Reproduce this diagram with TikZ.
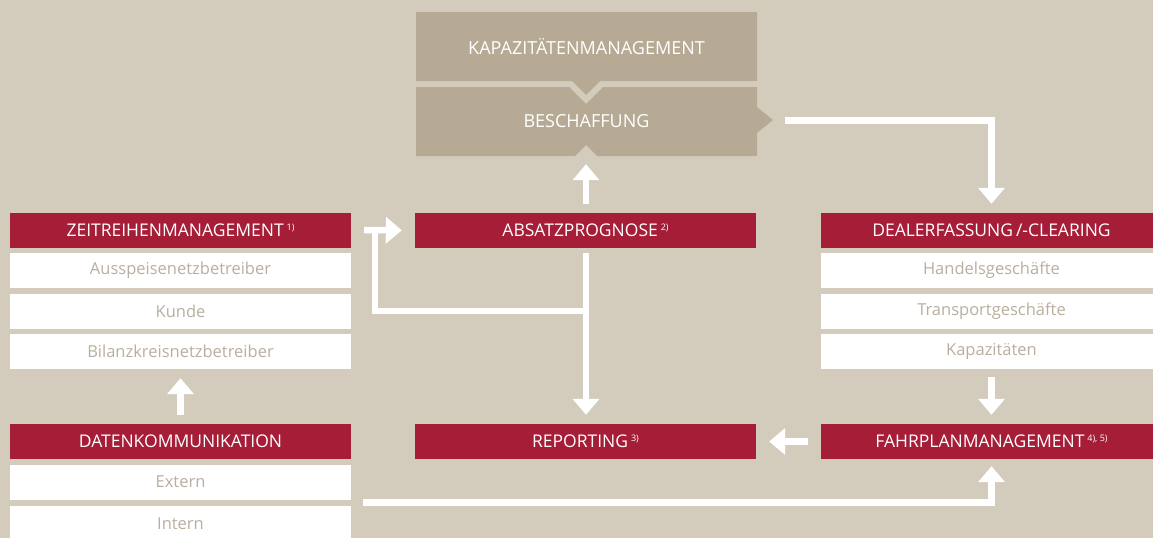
\documentclass[tikz,border=0pt]{standalone}
\usepackage{fontspec}
\setmainfont{Open Sans}
\usetikzlibrary{arrows.meta}
\definecolor{bgc}{RGB}{211,204,189}
\definecolor{taupe}{RGB}{182,170,148}
\definecolor{dred}{RGB}{166,29,55}
\definecolor{rowtxt}{RGB}{186,175,158}
\newcommand{\sups}[1]{\,\raisebox{6.5pt}{\fontsize{9}{9}\selectfont #1}}
\tikzset{
  redbox/.style={fill=dred,text=white,minimum width=341pt,minimum height=35pt,inner sep=0pt,font=\fontsize{17.5}{19}\selectfont},
  rowbox/.style={fill=white,text=rowtxt,minimum width=341pt,minimum height=35pt,inner sep=0pt,font=\fontsize{16.5}{18}\selectfont},
  toptext/.style={text=white,minimum width=341pt,minimum height=69pt,inner sep=0pt,font=\fontsize{18}{20}\selectfont},
  wline/.style={draw=white,line width=6.5pt},
  arr/.style={wline,-{Triangle[width=26pt,length=16pt]}}
}
\begin{document}
\begin{tikzpicture}[x=1pt,y=-1pt]
\fill[bgc] (0,0) rectangle (1153,538);
\useasboundingbox (0,0) rectangle (1153,538);
% top taupe shapes
\fill[taupe] (416,12) -- (757,12) -- (757,81) -- (600,81) -- (586,95) -- (572,81) -- (416,81) -- cycle;
\fill[taupe] (416,87) -- (569,87) -- (586,104) -- (603,87) -- (757,87) -- (757,107) -- (773,120) -- (757,133) -- (757,156) -- (597,156) -- (586,145) -- (575,156) -- (416,156) -- cycle;
\node[toptext] (kapm) at (586.5,46.5) {KAPAZITÄTENMANAGEMENT};
\node[toptext] (besch) at (586.5,121.5) {BESCHAFFUNG};
% left column
\node[redbox] (zeit) at (180.5,230.5) {ZEITREIHENMANAGEMENT\sups{1)}};
\node[rowbox] (ausp) at (180.5,270.5) {Ausspeisenetzbetreiber};
\node[rowbox] (kunde) at (180.5,311.5) {Kunde};
\node[rowbox] (bilanz) at (180.5,351.5) {Bilanzkreisnetzbetreiber};
\node[redbox] (daten) at (180.5,441.5) {DATENKOMMUNIKATION};
\node[rowbox] (extern) at (180.5,482) {Extern};
\node[rowbox] (intern) at (180.5,523.5) {Intern};
% middle column
\node[redbox] (absatz) at (585.5,230.5) {ABSATZPROGNOSE\sups{2)}};
\node[redbox] (report) at (585.5,441.5) {REPORTING\sups{3)}};
% right column
\node[redbox] (dealer) at (991.5,230.5) {DEALERFASSUNG\,/-CLEARING};
\node[rowbox] (handel) at (991.5,270.5) {Handelsgeschäfte};
\node[rowbox] (transp) at (991.5,311.5) {Transportgeschäfte};
\node[rowbox] (kapaz) at (991.5,351.5) {Kapazitäten};
\node[redbox] (fahr) at (991.5,441.5) {FAHRPLANMANAGEMENT\sups{4), 5)}};
% helper coordinates
\coordinate (br) at (586,311);
\coordinate (corner) at (375,226.75);
\coordinate (lstart) at (364,230);
\coordinate (dstart) at (363,502.5);
% connectors
\draw[arr,shorten <=9pt,shorten >=8pt] ([xshift=0.5pt]absatz.north) -- ([xshift=-0.5pt]besch.south);
\draw[arr,shorten <=28pt,shorten >=9pt] ([yshift=1pt]besch.east) -| (dealer.north);
\draw[arr,shorten <=8pt,shorten >=9pt] (kapaz.south) -- (fahr.north);
\draw[arr,shorten <=13pt,shorten >=13pt] (fahr.west) -- (report.east);
\draw[arr,shorten >=7pt] (dstart) -| (fahr.south);
\draw[arr,shorten <=5pt,shorten >=9pt] ([xshift=0.5pt]absatz.south) -- ([xshift=0.5pt]report.north);
\draw[wline] (br) -| (corner);
\draw[arr,shorten >=13pt] (lstart) -- (absatz.west);
\draw[arr,shorten <=9pt,shorten >=9pt] (daten.north) -- (bilanz.south);
\end{tikzpicture}
\end{document}
